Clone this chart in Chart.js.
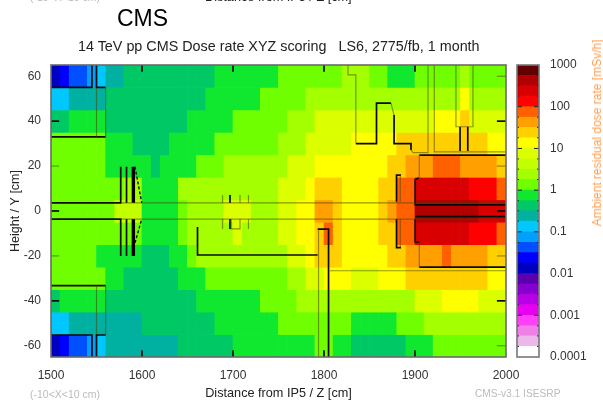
<!DOCTYPE html>
<html>
<head>
<meta charset="utf-8">
<script src="https://cdn.jsdelivr.net/npm/chart.js@4/dist/chart.umd.js"></script>
<style>
html,body{margin:0;padding:0;background:#fff;overflow:hidden}
#stage{position:relative;width:603px;height:401px;overflow:hidden}
canvas{position:absolute;left:0;top:0;filter:blur(.7px)}
.t{position:absolute;white-space:nowrap;font-family:"Liberation Sans",Arial,sans-serif;filter:blur(.7px)}
</style>
</head>
<body>
<div id="stage">
<canvas id="map" width="603" height="401"></canvas>
<canvas id="bar" width="603" height="401"></canvas>
<div class="t" style="left:30px;top:-9px;font-size:10.5px;color:#bbb">(-10&lt;X&lt;10 cm)</div>
<div class="t" style="left:205px;top:-10px;font-size:12.7px;color:#222">Distance from IP5 / Z [cm]</div>
<div class="t" style="left:475px;top:-9px;font-size:10.2px;color:#bbb">CMS-v3.1 ISESRP</div>
<div class="t" style="left:117px;top:5px;font-size:23px;color:#000;filter:none">CMS</div>
<div class="t" id="ttl" style="left:78px;top:38px;font-size:14.35px;color:#222">14 TeV pp CMS Dose rate XYZ scoring &nbsp;&nbsp;LS6, 2775/fb, 1 month</div>
<div class="t" style="left:30px;top:388px;font-size:10.5px;color:#bbb">(-10&lt;X&lt;10 cm)</div>
<div class="t" style="left:475px;top:388px;font-size:10.2px;color:#bbb">CMS-v3.1 ISESRP</div>
<div class="t" style="left:597px;top:133px;font-size:12px;color:#ff9d50;transform:translate(-50%,-50%) rotate(-90deg)">Ambient residual dose rate [mSv/h]</div>
</div>
<script>
const xTicks = [1500, 1600, 1700, 1800, 1900, 2000];
const yTicks = [-60, -40, -20, 0, 20, 40, 60];
const doseTicks = [0.0001, 0.001, 0.01, 0.1, 1, 10, 100, 1000];
const zCentres = [1505,1515,1525,1535,1545,1555,1565,1575,1585,1595,1605,1615,1625,1635,1645,1655,1665,1675,1685,1695,1705,1715,1725,1735,1745,1755,1765,1775,1785,1795,1805,1815,1825,1835,1845,1855,1865,1875,1885,1895,1905,1915,1925,1935,1945,1955,1965,1975,1985,1995];
const yEdges = [65,55,45,35,25,15,5,-5,-15,-25,-35,-45,-55,-65];

const row0 = [.013,.024,.042,.042,.075,.13,.24,.24,.42,.42,.42,.42,.42,.42,.42,.42,.42,.42,.75,.75,.75,.75,.75,.75,.75,1.3,1.3,1.3,1.3,1.3,1.3,1.3,2.4,2.4,2.4,1.3,1.3,.75,.75,.75,1.3,1.3,1.3,1.3,1.3,2.4,1.3,1.3,1.3,1.3];
const row1 = [.13,.13,.24,.24,.24,.24,.42,.42,.42,.42,.42,.42,.42,.42,.42,.42,.42,.75,.75,.75,.75,.75,.75,1.3,1.3,1.3,1.3,1.3,2.4,2.4,2.4,2.4,2.4,2.4,2.4,2.4,2.4,2.4,2.4,2.4,2.4,2.4,2.4,2.4,2.4,13,2.4,2.4,2.4,2.4];
const row2 = [.42,.42,.75,.75,.75,.75,.42,.42,.42,.42,.42,.42,.42,.42,.42,.75,.75,.75,.75,.75,1.3,1.3,1.3,1.3,1.3,1.3,2.4,2.4,2.4,7.5,7.5,7.5,7.5,7.5,7.5,7.5,7.5,7.5,7.5,7.5,7.5,7.5,13,13,13,24,7.5,7.5,7.5,7.5];
const row3 = [1.3,1.3,1.3,1.3,1.3,1.3,.75,.75,.75,.42,.42,.42,.42,.75,.75,.75,.75,.75,1.3,1.3,1.3,1.3,1.3,1.3,1.3,2.4,2.4,2.4,7.5,7.5,7.5,7.5,7.5,13,13,13,13,13,24,24,24,24,24,24,24,24,24,24,13,13];
const row4 = [1.3,1.3,1.3,1.3,1.3,1.3,.75,.75,.75,.75,.75,.42,.75,.75,.75,.75,1.3,1.3,1.3,2.4,2.4,2.4,2.4,2.4,2.4,2.4,7.5,7.5,7.5,13,13,13,13,13,13,13,13,24,24,42,42,42,75,75,75,42,42,42,42,24];
const row5 = [1.3,1.3,1.3,1.3,1.3,1.3,1.3,1.3,2.4,2.4,.75,.75,.75,.75,2.4,2.4,2.4,2.4,2.4,2.4,2.4,2.4,2.4,2.4,2.4,7.5,7.5,7.5,13,24,24,24,13,13,13,13,24,24,75,75,240,240,240,240,240,240,130,130,130,75];
const row6 = [1.3,1.3,1.3,1.3,1.3,1.3,1.3,4.2,4.2,4.2,.75,.75,.75,.75,1.3,2.4,2.4,2.4,2.4,7.5,7.5,7.5,2.4,2.4,2.4,7.5,7.5,13,13,42,42,24,13,13,13,13,24,42,75,75,420,420,420,420,420,420,420,240,240,240];
const row7 = [1.3,1.3,1.3,1.3,1.3,1.3,1.3,1.3,1.3,1.3,.75,.75,.75,.75,1.3,2.4,2.4,2.4,2.4,2.4,7.5,2.4,2.4,2.4,2.4,7.5,7.5,13,13,24,75,24,13,13,13,13,24,24,75,75,240,240,240,240,240,240,130,130,130,75];
const row8 = [1.3,1.3,1.3,1.3,1.3,.75,.75,.75,.75,.75,.42,.42,.42,.75,.75,1.3,2.4,2.4,2.4,2.4,2.4,2.4,2.4,2.4,2.4,2.4,7.5,7.5,13,24,24,24,13,13,13,13,13,24,24,42,42,42,42,75,42,42,42,42,24,24];
const row9 = [1.3,1.3,1.3,1.3,1.3,1.3,.75,.75,.42,.42,.42,.42,.42,.42,.75,.75,.75,1.3,1.3,1.3,1.3,1.3,1.3,1.3,1.3,1.3,2.4,2.4,7.5,7.5,13,13,13,7.5,7.5,7.5,13,13,13,24,24,24,24,24,24,24,24,24,13,13];
const row10 = [.42,.75,.75,.75,.75,.75,.42,.42,.42,.42,.42,.42,.42,.42,.42,.42,.75,.75,.75,.75,.75,.75,.75,1.3,1.3,1.3,1.3,2.4,2.4,2.4,2.4,2.4,2.4,2.4,2.4,2.4,2.4,2.4,2.4,2.4,7.5,7.5,7.5,13,13,13,13,7.5,7.5,7.5];
const row11 = [.13,.13,.24,.24,.24,.24,.24,.24,.24,.24,.42,.42,.42,.42,.42,.42,.42,.42,.75,.75,.75,.75,.75,.75,.75,1.3,1.3,1.3,1.3,1.3,1.3,1.3,1.3,.75,.75,.75,.75,.75,1.3,1.3,1.3,2.4,2.4,2.4,2.4,2.4,2.4,2.4,2.4,2.4];
const row12 = [.013,.024,.042,.042,.075,.13,.24,.24,.24,.24,.24,.24,.24,.24,.42,.42,.42,.42,.42,.42,.75,.75,.75,.75,.75,.75,.75,.75,.75,1.3,1.3,.75,.75,.42,.42,.42,.42,.42,.42,.75,.75,.75,1.3,1.3,1.3,1.3,1.3,1.3,1.3,1.3];
const doseRows = [row0,row1,row2,row3,row4,row5,row6,row7,row8,row9,row10,row11,row12];

const bandEdges = [0.0001,0.00018,0.00032,0.00056,0.001,0.0018,0.0032,0.0056,0.01,0.018,0.032,0.056,0.1,0.18,0.32,0.56,1,1.8,3.2,5.6,10,18,32,56,100,180,320,560,1000];
const bandColors = ['#ffffff','#ecb8ec','#f080e8','#ff40f8','#e800f0','#b800e8','#8800d0','#5a00b0','#0000c0','#0000ff','#0050ff','#00a0ff','#00c8ff','#00b0a0','#00c864','#10e830','#70ff00','#a4ff00','#c4ff00','#dcff00','#ffff00','#ffd000','#ffa000','#ff6000','#ff0000','#d80000','#b00000','#600000'];

const blackPaths = [
 [[1500,55],[1545,55],[1545,65]], [[1550,65],[1550,55],[1560,55]], [[1500,33],[1560,33]],
 [[1500,-33.2],[1560,-33.2]], [[1500,-55.2],[1545,-55.2],[1545,-65]], [[1550,-65],[1550,-55.2],[1560,-55.2]],
 [[1500,3.6],[1576.6,3.6],[1576.6,19.7]], [[1500,-3.6],[1576.6,-3.6],[1576.6,-20]],
 [[1583,3.6],[1583,19.7]], [[1583,-3.6],[1583,-20]],
 [[1696.7,3.6],[1696.7,7.1]], [[1696.7,-3.6],[1696.7,-8]],
 [[1661,-7.1],[1661,-19.6],[1793,-19.6]], [[1793,-8.1],[1805,-8.1],[1805,-65]],
 [[1835,30],[1857.7,30],[1857.7,48],[1873.6,48]], [[1877,42.7],[1877,30],[1895.6,30],[1895.6,27.2]],
 [[1949.5,37.5],[1949.5,26.7]], [[1958,37.5],[1958,26.7]],
 [[2000,24.9],[1904.7,24.9]], [[1904,14.7],[1900.2,14],[1900.2,2.7],[2000,2.7]],
 [[1900.2,-2.5],[2000,-2.5]], [[1900.2,-3.6],[1900.2,-13.8],[1904.7,-13.8]], [[1904.7,-25],[2000,-25]],
 [[1884.6,16],[1879.7,16],[1879.7,4.1]], [[1879.7,-3.6],[1879.7,-16.3],[1884.6,-16.3]],
 [[1500,40],[1509,40]], [[1500,-40],[1509,-40]], [[1500,0],[1509,0]],
 [[1990,40],[2000,40]], [[1990,-40],[2000,-40]], [[1990,0],[2000,0]],
 [[1600,65],[1600,62]], [[1700,65],[1700,62]], [[1800,65],[1800,62]], [[1900,65],[1900,62]],
 [[1600,-65],[1600,-62]], [[1700,-65],[1700,-62]], [[1800,-65],[1800,-62]], [[1900,-65],[1900,-62]]
];
const dimPaths = [
 [[1550,55],[1550,33]], [[1560,55],[1560,33]], [[1550,-33.2],[1550,-55.2]], [[1560,-33.2],[1560,-55.2]],
 [[1576.6,3.6],[2000,3.6]], [[1576.6,-3.6],[2000,-3.6]],
 [[1688.5,3.6],[1688.5,7.1]], [[1707.7,3.6],[1707.7,7.1]], [[1717,3.6],[1717,7.1]],
 [[1688.5,-3.6],[1688.5,-8]], [[1698,-3.6],[1698,-8],[1707.7,-8],[1707.7,-3.6]], [[1717,-3.6],[1717,-8]],
 [[1794,-8.1],[1794,-65]], [[1806.6,-26.6],[2000,-26.6]],
 [[1826.4,65],[1826.4,60.6],[1835,60.6],[1835,30]], [[1873.6,48],[1877,42.7]],
 [[1895.6,27.2],[1898,26],[1914.3,26],[1914.3,65]],
 [[1921.2,65],[1921.2,26.3],[2000,26.3]], [[1945,65],[1945,37.5],[1963.7,37.5],[1963.7,65]],
 [[1904.7,24.9],[1904.7,14.7]], [[1904.7,-13.8],[1904.7,-25]],
 [[1883.8,16],[1883.8,4.1]], [[1883.8,-3.6],[1883.8,-16.3]],
 [[1500,20],[1509,20]], [[1500,-20],[1509,-20]], [[1990,60],[2000,60]], [[1990,20],[2000,20]], [[1990,-60],[2000,-60]], [[1990,-20],[2000,-20]]
];
const thickPaths = [ [[1590.5,3.6],[1590.5,19.7]], [[1590.5,-3.6],[1590.5,-20]] ];
const dashPaths = [ [[1592.3,19.7],[1599.7,3.6]], [[1592.3,-14.2],[1599.7,-3.6]] ];

const tickFont = {family:'"Liberation Sans",Arial,sans-serif', size:12};
const bandOf = v => bandEdges.findIndex((e,i)=> v>=e && v<bandEdges[i+1]);

function pathSet(p, color, width, dash){
  return {type:'line', order:1, data:p.map(q=>({x:q[0],y:q[1]})), borderColor:color, borderWidth:width,
    borderDash:dash||[], pointRadius:0, tension:0, fill:false, borderCapStyle:'butt', borderJoinStyle:'miter', clip:true};
}
const cellSets = doseRows.map((row,r)=>({
  order:2,
  data: row.map((v,i)=>({x:zCentres[i], y:[yEdges[r+1],yEdges[r]]})),
  backgroundColor: row.map(v=>bandColors[bandOf(v)]),
  barPercentage:1, categoryPercentage:1, grouped:false, borderWidth:0
}));
const frame = {id:'frame', afterDraw(c){
  const a=c.chartArea, g=c.ctx; g.save(); g.strokeStyle='#6a6a6a'; g.lineWidth=1.6;
  g.strokeRect(a.left,a.top,a.width,a.height); g.restore();
}};
new Chart(document.getElementById('map'),{
  type:'bar',
  data:{datasets:[...cellSets,
    ...dimPaths.map(p=>pathSet(p,'rgba(70,70,0,.55)',1.2)),
    ...blackPaths.map(p=>pathSet(p,'#0a0a0a',1.7)),
    ...thickPaths.map(p=>pathSet(p,'#000',3.4)),
    ...dashPaths.map(p=>pathSet(p,'#111',1.4,[3,2]))]},
  options:{
    responsive:false, animation:false, events:[],
    layout:{padding:{top:65,right:97,left:0,bottom:0}},
    plugins:{legend:{display:false},tooltip:{enabled:false},title:{display:false}},
    scales:{
      x:{type:'linear',offset:false,min:1500,max:2000,grid:{display:false,drawTicks:false},border:{display:false},
        afterBuildTicks:s=>{s.ticks=xTicks.map(v=>({value:v}))},
        afterFit:s=>{s.height=44},
        ticks:{font:tickFont,color:'#333',padding:11,maxRotation:0,autoSkip:false,callback:v=>String(v)},
        title:{display:true,text:'Distance from IP5 / Z [cm]',color:'#222',font:{family:tickFont.family,size:12.7},padding:{top:3,bottom:0}}},
      y:{min:-65,max:65,grid:{display:false,drawTicks:false},border:{display:false},
        afterBuildTicks:s=>{s.ticks=yTicks.map(v=>({value:v}))},
        afterFit:s=>{s.width=51},
        ticks:{font:tickFont,color:'#333',padding:10,autoSkip:false,callback:v=>String(v)},
        title:{display:true,text:'Height / Y [cm]',color:'#222',font:{family:tickFont.family,size:12.5},padding:{top:8,bottom:0}}}
    }
  },
  plugins:[frame]
});
const barMarks = {id:'barMarks', afterDraw(c){
  const a=c.chartArea, g=c.ctx, s=c.scales.y; g.save(); g.strokeStyle='#222';
  bandEdges.forEach((e,i)=>{ if(i===0||i===bandEdges.length-1) return;
    const y=s.getPixelForValue(e), n=(i%4===0)?5:2; g.lineWidth=1;
    g.beginPath(); g.moveTo(a.left,y); g.lineTo(a.left+n,y); g.moveTo(a.right,y); g.lineTo(a.right-n,y); g.stroke(); });
  g.strokeStyle='#777'; g.lineWidth=1.6; g.strokeRect(a.left,a.top,a.width,a.height); g.restore();
}};
new Chart(document.getElementById('bar'),{
  type:'bar',
  data:{labels:['dose'],datasets:bandColors.map((col,i)=>({data:[[bandEdges[i],bandEdges[i+1]]],backgroundColor:col,barPercentage:1,categoryPercentage:1,grouped:false,borderWidth:0}))},
  options:{
    responsive:false, animation:false, events:[],
    layout:{padding:{top:65,bottom:44,left:517,right:0}},
    plugins:{legend:{display:false},tooltip:{enabled:false}},
    scales:{
      x:{display:false},
      y:{type:'logarithmic',position:'right',min:0.0001,max:1000,grid:{display:false,drawTicks:false},border:{display:false},
        afterBuildTicks:s=>{s.ticks=doseTicks.map(v=>({value:v}))},
        afterFit:s=>{s.width=64},
        ticks:{font:tickFont,color:'#333',padding:11,autoSkip:false,callback:v=>String(v)}}
    }
  },
  plugins:[barMarks]
});
</script>
</body>
</html>
